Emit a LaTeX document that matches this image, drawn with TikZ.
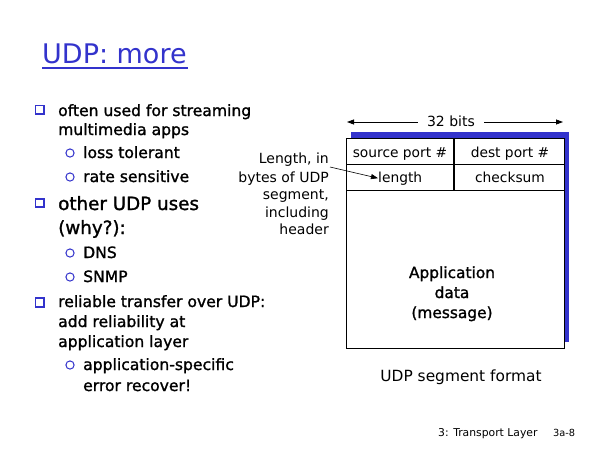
\documentclass[tikz,border=0pt]{standalone}
\usepackage{fontspec}
\setmainfont{DejaVu Sans}
\newfontfamily\fakebold[FakeBold=1.3]{DejaVu Sans}
\usetikzlibrary{arrows.meta}
\definecolor{slideblue}{RGB}{51,51,204}
\tikzset{
  lvlone/.style={anchor=base west, inner sep=0pt, font=\fakebold\fontsize{15.6}{18}\selectfont},
  lvlbig/.style={anchor=base west, inner sep=0pt, font=\fakebold\fontsize{18.3}{22}\selectfont},
  lvltwo/.style={anchor=base west, inner sep=0pt, font=\fakebold\fontsize{15.6}{18}\selectfont},
  sqbullet/.style={draw=slideblue, line width=1.7pt, minimum size=8.6pt, inner sep=0pt},
  circbullet/.style={draw=slideblue, line width=1pt, circle, minimum size=8.2pt, inner sep=0pt},
  sidelabel/.style={anchor=base east, inner sep=0pt, font=\fontsize{14}{17}\selectfont},
  celltext/.style={anchor=base, inner sep=0pt, font=\fontsize{13.8}{16}\selectfont},
  apptext/.style={anchor=base, inner sep=0pt, font=\fakebold\fontsize{15.4}{18}\selectfont},
  tip/.style={-{Triangle[length=7pt,width=5pt]}},
}
\begin{document}
\begin{tikzpicture}[x=1pt,y=-1pt]
\useasboundingbox (0,0) rectangle (600,450);
\fill[white] (0,0) rectangle (600,450);

% title
\node[anchor=base west, inner sep=0pt, text=slideblue, font=\fontsize{27}{32}\selectfont] (title) at (42,63) {UDP: more};
\draw[slideblue, line width=2.6pt] (42,68) -- (188,68);

% bullets
\node[sqbullet] (b1) at (39.7,109.7) {};
\node[lvlone] (t1a) at (58,116) {often used for streaming};
\node[lvlone] (t1b) at (58,135) {multimedia apps};
\node[circbullet] (c1) at (70,153) {};
\node[lvltwo] (t1c) at (83,158) {loss tolerant};
\node[circbullet] (c2) at (70,177) {};
\node[lvltwo] (t1d) at (83,182) {rate sensitive};

\node[sqbullet] (b2) at (39.7,203) {};
\node[lvlbig] (t2a) at (58,210) {other UDP uses};
\node[lvlbig] (t2b) at (58,234) {(why?):};
\node[circbullet] (c3) at (70,253) {};
\node[lvltwo] (t2c) at (83,258) {DNS};
\node[circbullet] (c4) at (70,277) {};
\node[lvltwo] (t2d) at (83,282) {SNMP};

\node[sqbullet] (b3) at (39.7,302.5) {};
\node[lvlone] (t3a) at (58,307) {reliable transfer over UDP:};
\node[lvlone] (t3b) at (58,327) {add reliability at};
\node[lvlone] (t3c) at (58,347) {application layer};
\node[circbullet] (c5) at (70,365) {};
\node[lvltwo] (t3d) at (83,370) {application-specific};
\node[lvltwo] (t3e) at (83,391) {error recover!};

% side label
\node[sidelabel] (s1) at (329,163) {Length, in};
\node[sidelabel] (s2) at (329,182) {bytes of UDP};
\node[sidelabel] (s3) at (329,199) {segment,};
\node[sidelabel] (s4) at (329,217) {including};
\node[sidelabel] (s5) at (329,234) {header};

% segment box
\fill[slideblue] (351,132) rectangle (569,342);
\filldraw[fill=white, draw=black, line width=0.9pt] (346,138) rectangle (564,348);
\draw[line width=0.9pt] (346,164) -- (564,164);
\draw[line width=0.9pt] (346,190) -- (564,190);
\draw[line width=1.2pt] (454,138) -- (454,190);

\node[celltext] (sp) at (400,157) {source port \#};
\node[celltext] (dp) at (510,157) {dest port \#};
\node[anchor=base west, inner sep=0pt, font=\fontsize{13.8}{16}\selectfont] (len) at (378,182) {length};
\node[celltext] (cks) at (510,182) {checksum};

\coordinate (lenfrom) at (330,167);
\draw[tip, line width=0.6pt] (lenfrom) -- (len.west);

% 32 bits
\node[inner xsep=9pt, inner ysep=0pt, font=\fontsize{14}{16}\selectfont] (bits) at (451,121) {32 bits};
\coordinate (bl) at (347,122);
\coordinate (br) at (563,122);
\draw[tip, line width=0.8pt] (bits.west |- bl) -- (bl);
\draw[tip, line width=0.8pt] (bits.east |- br) -- (br);

\node[apptext] (ap1) at (452,278) {Application};
\node[apptext] (ap2) at (452,298) {data};
\node[apptext] (ap3) at (452,318) {(message)};

\node[anchor=base, inner sep=0pt, font=\fontsize{15.4}{18}\selectfont] (cap) at (461,381) {UDP segment format};

% footer
\node[anchor=base west, inner sep=0pt, font=\fontsize{10.8}{13}\selectfont] (f1) at (438,436) {3: Transport Layer};
\node[anchor=base west, inner sep=0pt, font=\fontsize{9.8}{12}\selectfont] (f2) at (553,436) {3a-8};
\end{tikzpicture}
\end{document}
